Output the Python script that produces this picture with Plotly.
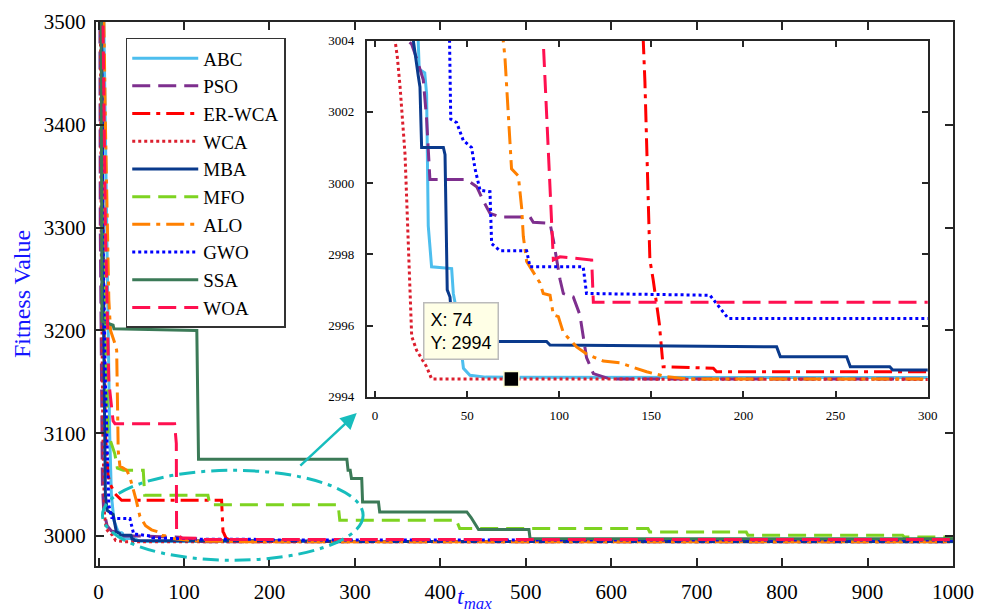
import numpy as np
import plotly.graph_objects as go

# ---------------- data ----------------
ALGOS = ["ABC", "PSO", "ER-WCA", "WCA", "MBA", "MFO", "ALO", "GWO", "SSA", "WOA"]

ABC_x = [1, 8, 11, 13, 15, 18, 22, 23.5, 24, 27, 28, 28.9, 30.7, 41.6, 42.5, 44.3, 48, 51.5, 60, 1000]
ABC_y = [3800, 3400, 3260, 3100, 3040, 3015, 3006, 3004, 3003.2, 3003.1, 3002.5, 2998.8, 2997.65,
         2997.6, 2996.9, 2996.4, 2994.8, 2994.6, 2994.55, 2994.5]

PSO_x = [1, 2, 3.5, 4.5, 6, 10, 15, 18, 19.9, 22.6, 26.2, 28, 29.8, 49.7, 55.2, 58.8, 62.4, 67.8,
         84.1, 85.9, 95, 96.8, 100.4, 102.2, 107.6, 111.2, 114.8, 118.5, 127.5, 1000]
PSO_y = [3800, 3300, 3150, 3050, 3025, 3010, 3005, 3004, 3003.9, 3003.5, 3002.9, 3001.8, 3000.1,
         3000.1, 2999.9, 2999.5, 2999.15, 2999.05, 2999.05, 2998.9, 2998.87, 2998.4, 2997.3,
         2996.9, 2996.8, 2996.3, 2995.1, 2994.65, 2994.5, 2994.5]

ERWCA_x = [1, 5, 8, 11, 13.3, 19.2, 27, 144, 145.6, 146.5, 149.2, 151, 154.3, 156.4, 183.6, 185.4, 1000]
ERWCA_y = [3800, 3300, 3100, 3060, 3051, 3041, 3034.7, 3034.7, 3004, 3002.85, 2997.84, 2997.28,
           2996.06, 2994.84, 2994.8, 2994.7, 2994.7]

WCA_x = [1, 3, 5, 7, 9, 10.9, 12.1, 13.6, 16.3, 18.1, 19.9, 22.6, 28, 30.7, 1000]
WCA_y = [3800, 3300, 3100, 3020, 3007, 3004, 3003.55, 3002.7, 3000.8, 2998.3, 2995.7, 2995.3,
         2994.84, 2994.5, 2994.45]

MBA_x = [1, 4, 6, 8, 10, 17, 20, 20.8, 23.5, 24.4, 25.3, 37.1, 38, 39.2, 40.7, 42.5, 49.7, 93.1,
         95, 218, 220, 256, 258, 279.4, 281, 1000]
MBA_y = [3800, 3400, 3200, 3040, 3025, 3021, 3008, 3004, 3003, 3002.7, 3001, 3001, 3000.8, 2997,
         2996.8, 2995.6, 2995.55, 2995.55, 2995.45, 2995.4, 2995.12, 2995.12, 2994.84, 2994.84,
         2994.75, 2994.7]

MFO_x = [1, 6, 9, 11, 19, 22, 29, 52.3, 54, 128, 130.3, 280.4, 282.3, 418.8, 422.7, 643, 645,
         758, 760, 941, 943, 1000]
MFO_y = [3800, 3400, 3170, 3100, 3080, 3066, 3063.9, 3063.9, 3039.6, 3039.6, 3030.5, 3030.5,
         3015.3, 3015.3, 3007.2, 3007.2, 3003.9, 3003.9, 3000.7, 3000.7, 2999, 2999]

ALO_x = [1, 8, 12, 14, 19.2, 21.2, 23, 25, 33, 36.7, 44, 48.4, 55, 62, 69.6, 70.5, 73.3, 74.1,
         77.8, 79.6, 80.5, 82.3, 85.9, 89.5, 91.3, 95, 96.8, 99.5, 102.2, 109.4, 114.8, 123.9,
         132.9, 147.4, 158.3, 170, 1000]
ALO_y = [3800, 3400, 3230, 3200, 3187, 3180.5, 3083, 3068, 3064, 3057, 3035, 3019, 3010, 3006,
         3004, 3003.55, 3001.1, 3000.4, 3000.2, 2999.3, 2998.5, 2997.8, 2997.5, 2997.2, 2996.9,
         2996.85, 2996.3, 2996.25, 2995.8, 2995.4, 2995.2, 2995.0, 2994.95, 2994.7, 2994.56,
         2994.5, 2994.5]

GWO_x = [1, 5, 8, 12, 15.3, 21, 36.7, 40.7, 41.1, 44.3, 47.9, 52.4, 54.3, 57, 62.4, 63.3, 67.8,
         82.3, 84.1, 113, 114.8, 181.8, 191.7, 1000]
GWO_y = [3800, 3300, 3150, 3030, 3018, 3017, 3016.9, 3004, 3001.8, 3001.7, 3001.2, 3001.0,
         3000.4, 2999.8, 2999.76, 2998.3, 2998.1, 2998.1, 2997.65, 2997.65, 2996.9, 2996.85,
         2996.2, 2996.2]

SSA_x = [1, 3, 4, 17, 18, 115, 117, 290.6, 292, 294.5, 296, 308, 309, 327.6, 329, 431, 436,
         444.7, 503.7, 505, 1000]
SSA_y = [3800, 3500, 3209, 3205, 3201.5, 3200, 3074.7, 3074.7, 3064, 3064, 3056, 3056, 3033,
         3033, 3023.4, 3023.4, 3018, 3006.2, 3006.2, 2997.5, 2997.3]

WOA_x = [1, 5, 8, 12, 17, 19.2, 89, 91, 91.3, 95, 96.8, 100.4, 117.6, 118.5, 1000]
WOA_y = [3800, 3500, 3300, 3150, 3112, 3109.3, 3109.3, 3090, 3004, 2999.7, 2997.84, 2997.93,
         2997.84, 2996.65, 2996.65]

SERIES_X = [ABC_x, PSO_x, ERWCA_x, WCA_x, MBA_x, MFO_x, ALO_x, GWO_x, SSA_x, WOA_x]
SERIES_Y = [ABC_y, PSO_y, ERWCA_y, WCA_y, MBA_y, MFO_y, ALO_y, GWO_y, SSA_y, WOA_y]

MAIN_XTICKS = list(range(0, 1001, 100))
MAIN_YTICKS = list(range(3000, 3501, 100))
INSET_XTICKS = list(range(0, 301, 50))
INSET_YTICKS = list(range(2994, 3005, 2))

DATATIP_X = 74
DATATIP_Y = float(np.interp(DATATIP_X, WCA_x, WCA_y))

# ---------------- styles ----------------
COLORS = ["#4DBEEE", "#7E2F8E", "#FF0000", "#DC1F2E", "#0A3A8C",
          "#7ED321", "#FF8000", "#0000FF", "#3B7A57", "#FF1050"]
DASH = "18px,8px"
DASHDOT = "18px,6px,4px,6px"
DOT = "3px,3px"
DASHES = ["solid", DASH, DASHDOT, DOT, "solid", DASH, DASHDOT, DOT, "solid", DASH]
CYAN = "#17BDBD"
SERIF = "Liberation Serif"
AX = "#262626"

fig = go.Figure()

for name, xs, ys, c, d in zip(ALGOS, SERIES_X, SERIES_Y, COLORS, DASHES):
    fig.add_trace(go.Scatter(x=xs, y=ys, mode="lines", name=name,
                             line=dict(color=c, width=3, dash=d),
                             xaxis="x", yaxis="y", showlegend=True))
for name, xs, ys, c, d in zip(ALGOS, SERIES_X, SERIES_Y, COLORS, DASHES):
    fig.add_trace(go.Scatter(x=xs, y=ys, mode="lines", name=name,
                             line=dict(color=c, width=3, dash=d),
                             xaxis="x2", yaxis="y2", showlegend=False))

# data tip marker
fig.add_trace(go.Scatter(x=[DATATIP_X], y=[DATATIP_Y], mode="markers",
                         marker=dict(symbol="square", size=15, color="black",
                                     line=dict(color="#FFFFD8", width=1.5)),
                         xaxis="x2", yaxis="y2", showlegend=False, cliponaxis=False))

axis_common = dict(showgrid=False, zeroline=False, showline=True, linecolor=AX,
                   linewidth=2, mirror="ticks", ticks="inside", tickcolor=AX,
                   tickwidth=2, automargin=False)

fig.update_layout(
    width=988, height=613,
    margin=dict(l=96, r=35, t=22, b=47, autoexpand=False),
    paper_bgcolor="white", plot_bgcolor="white",
    xaxis=dict(domain=[0, 1], range=[-3, 1000], tickvals=MAIN_XTICKS, ticklen=8,
               tickfont=dict(family=SERIF, size=21, color="black"), ticklabelstandoff=6,
               **axis_common),
    yaxis=dict(domain=[0, 1], range=[2970.8, 3500], tickvals=MAIN_YTICKS, ticklen=8,
               tickfont=dict(family=SERIF, size=21, color="black"), ticklabelstandoff=4,
               **axis_common),
    xaxis2=dict(domain=[0.3159, 0.9705], anchor="y2", range=[-4.5, 300],
                tickvals=INSET_XTICKS, ticklen=6,
                tickfont=dict(family=SERIF, size=13, color="black"), ticklabelstandoff=6,
                **axis_common),
    yaxis2=dict(domain=[0.3112, 0.9656], anchor="x2", range=[2994, 3004],
                tickvals=INSET_YTICKS, ticklen=6,
                tickfont=dict(family=SERIF, size=13, color="black"), ticklabelstandoff=8,
                **axis_common),
    legend=dict(x=0.0347, y=0.971, xanchor="left", yanchor="top", bgcolor="white",
                bordercolor="#333333", borderwidth=1.5, traceorder="normal",
                font=dict(family=SERIF, size=19, color="black"), itemwidth=66),
    showlegend=True,
)

# ellipse highlighting the zoomed region
fig.add_shape(type="circle", xref="x", yref="y", x0=4.6, x1=309.6, y0=2976.4, y1=3063.9,
              line=dict(color=CYAN, width=3, dash="16px,6px,4px,6px"))

# arrow towards inset
fig.add_annotation(xref="x", yref="y", axref="x", ayref="y", x=302.2, y=3119.6,
                   ax=234.4, ay=3067.1, text="", showarrow=True, arrowhead=2,
                   arrowsize=1.3, arrowwidth=2.5, arrowcolor=CYAN, standoff=0)

# data tip box
fig.add_annotation(xref="x2", yref="y2", x=26.2, y=2996.67, xanchor="left", yanchor="top",
                   text="X: 74<br>Y: 2994", showarrow=False, align="left",
                   font=dict(family="Liberation Sans", size=18, color="black"),
                   bgcolor="#FFFFE6", bordercolor="#BBBBBB", borderwidth=1.5, borderpad=6)

# axis labels
fig.add_annotation(xref="paper", yref="paper", x=-0.0863, y=0.5, textangle=-90,
                   text="Fitness Value", showarrow=False, xanchor="center", yanchor="middle",
                   font=dict(family=SERIF, size=24, color="#1515FF"))
fig.add_annotation(xref="x", yref="paper", x=440, y=-0.058, xanchor="center", yanchor="middle",
                   text="<i>t</i><sub><i>max</i></sub>", showarrow=False,
                   font=dict(family=SERIF, size=24, color="#1515FF"))

fig.write_html("out.html", post_script="document.body.style.margin='0px';",
               config={"displayModeBar": False})
